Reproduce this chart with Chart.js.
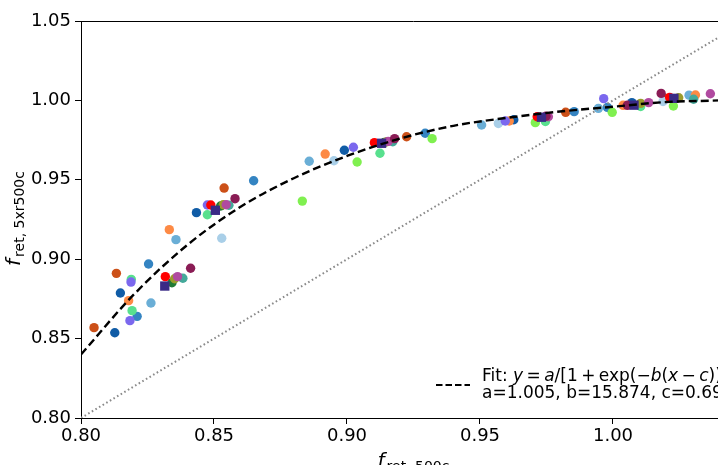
<!DOCTYPE html>
<html><head><meta charset="utf-8">
<script src="https://cdn.jsdelivr.net/npm/chart.js@4/dist/chart.umd.min.js"></script>
<style>html,body{margin:0;padding:0;background:#fff;overflow:hidden}#wrap{width:718px;height:465px;overflow:hidden;position:relative}</style>
</head><body>
<div id="wrap"><canvas id="c" width="790" height="465" style="width:790px;height:465px"></canvas></div>
<script>
// ---- data ----
const xTicks = [0.80, 0.85, 0.90, 0.95, 1.00, 1.05];
const yTicks = [0.80, 0.85, 0.90, 0.95, 1.00, 1.05];

const fitX = [0.80, 0.82, 0.84, 0.86, 0.88, 0.90, 0.92, 0.94, 0.96, 0.98, 1.00, 1.02, 1.04, 1.05];
const fitY = [0.840, 0.878, 0.909, 0.933, 0.951, 0.965, 0.976, 0.984, 0.989, 0.993, 0.996, 0.999, 1.000, 1.001];
const oneToOneX = [0.80, 1.05];
const oneToOneY = [0.80, 1.05];

const orangeRedX = [0.8049, 0.8133, 0.8538, 0.9224, 0.9822, 1.0200];
const orangeRedY = [0.8569, 0.8911, 0.9448, 0.9771, 0.9925, 1.0013];
const blueX = [0.8211, 0.8254, 0.8649, 0.9294, 0.9854, 0.9979];
const blueY = [0.8640, 0.8970, 0.9494, 0.9793, 0.9929, 0.9956];
const lightBlueX = [0.8263, 0.8357, 0.8858, 0.9506, 0.9945, 1.0286];
const lightBlueY = [0.8724, 0.9123, 0.9617, 0.9845, 0.9950, 1.0033];
const paleBlueX = [0.8529, 0.8951, 0.9569, 1.0188];
const paleBlueY = [0.9132, 0.9620, 0.9855, 0.9993];
const darkBlueX = [0.8127, 0.8148, 0.8434, 0.8990, 0.9627, 1.0071];
const darkBlueY = [0.8537, 0.8787, 0.9293, 0.9686, 0.9878, 0.9986];
const orangeX = [0.8179, 0.8332, 0.8918, 0.9610, 1.0038, 1.0310];
const orangeY = [0.8739, 0.9186, 0.9662, 0.9870, 0.9969, 1.0034];
const purpleX = [0.8184, 0.8188, 0.8475, 0.9024, 0.9595, 0.9965];
const purpleY = [0.8613, 0.8856, 0.9341, 0.9705, 0.9870, 1.0011];
const mintX = [0.8189, 0.8192, 0.8475, 0.9124, 0.9746, 1.0104];
const mintY = [0.8873, 0.8676, 0.9280, 0.9667, 0.9867, 0.9962];
const limeX = [0.8832, 0.9038, 0.9320, 0.9708, 0.9997, 1.0227];
const limeY = [0.9366, 0.9612, 0.9759, 0.9860, 0.9925, 0.9965];
const redX = [0.8317, 0.8488, 0.9103, 0.9715, 1.0213];
const redY = [0.8890, 0.9341, 0.9734, 0.9897, 1.0019];
const navyX = [0.8315, 0.8505, 0.9130, 0.9731, 1.0079, 1.0229];
const navyY = [0.8831, 0.9308, 0.9730, 0.9894, 0.9970, 1.0013];
const darkGreenX = [0.8342, 0.8525, 0.9140];
const darkGreenY = [0.8852, 0.9335, 0.9735];
const oliveX = [0.8352, 0.8535, 0.9150, 1.0104, 1.0247];
const oliveY = [0.8877, 0.9343, 0.9740, 0.9981, 1.0017];
const magentaX = [0.8363, 0.8546, 0.9155, 0.9757, 1.0134, 1.0366];
const magentaY = [0.8890, 0.9343, 0.9742, 0.9897, 0.9986, 1.0042];
const tealX = [0.8383, 0.8556, 0.9172, 1.0303];
const tealY = [0.8880, 0.9340, 0.9740, 1.0007];
const maroonX = [0.8412, 0.8579, 0.9179, 0.9748, 1.0054, 1.0181];
const maroonY = [0.8943, 0.9381, 0.9759, 0.9900, 0.9969, 1.0044];

const legendLine1 = ['Fit: ', 'y', '\u2009=\u2009', 'a', '/[1\u2009+\u2009exp(\u2212', 'b', '(', 'x', '\u2009\u2212\u2009', 'c', '))]'];
const legendLine2 = 'a=1.005, b=15.874, c=0.697';
const xTitleMain = 'f', xTitleSub = 'ret, 500c';
const yTitleMain = 'f', yTitleSub = 'ret, 5xr500c';

// ---- styles ----
const FONT = '"DejaVu Sans", "Liberation Sans", sans-serif';
const pts = (xs, ys) => xs.map((x, i) => ({x: x, y: ys[i]}));
const series = [
  [navyX, navyY, '#3a2a86', 'rect', 6.6],
  [redX, redY, '#ff0000', 'circle', 4.7],
  [maroonX, maroonY, '#8a1c55', 'circle', 4.7],
  [magentaX, magentaY, '#b04aa0', 'circle', 4.7],
  [tealX, tealY, '#44a99a', 'circle', 4.7],
  [oliveX, oliveY, '#9a9b2b', 'circle', 4.7],
  [darkGreenX, darkGreenY, '#207a35', 'circle', 4.7],
  [purpleX, purpleY, '#7b68ee', 'circle', 4.7],
  [mintX, mintY, '#58e08e', 'circle', 4.7],
  [limeX, limeY, '#80f050', 'circle', 4.7],
  [orangeX, orangeY, '#fd8a45', 'circle', 4.7],
  [darkBlueX, darkBlueY, '#105ca6', 'circle', 4.7],
  [paleBlueX, paleBlueY, '#a9cfe8', 'circle', 4.7],
  [lightBlueX, lightBlueY, '#6aaed6', 'circle', 4.7],
  [blueX, blueY, '#3484c2', 'circle', 4.7],
  [orangeRedX, orangeRedY, '#cc5018', 'circle', 4.7]
];

const datasets = [
  {type: 'line', data: pts(fitX, fitY), borderColor: '#000', borderWidth: 2.4, borderDash: [8, 4],
   pointRadius: 0, tension: 0.4, cubicInterpolationMode: 'monotone', fill: false},
  {type: 'line', data: pts(oneToOneX, oneToOneY), borderColor: '#8a8a8a', borderWidth: 2, borderDash: [1.6, 2.6],
   pointRadius: 0, fill: false}
].concat(series.map(s => ({
  type: 'scatter', data: pts(s[0], s[1]), backgroundColor: s[2], borderWidth: 0,
  pointStyle: s[3], pointRadius: s[4], pointHoverRadius: s[4]
})));

const decor = {
  id: 'decor',
  afterDraw(chart) {
    const ctx = chart.ctx, a = chart.chartArea;
    ctx.save();
    ctx.strokeStyle = '#000'; ctx.lineWidth = 1;
    ctx.beginPath();
    ctx.moveTo(a.left, Math.round(a.top) + 0.5); ctx.lineTo(a.right, Math.round(a.top) + 0.5);
    ctx.moveTo(Math.round(a.right) - 0.5, a.top); ctx.lineTo(Math.round(a.right) - 0.5, a.bottom);
    ctx.stroke();
    ctx.fillStyle = '#000';
    ctx.textBaseline = 'alphabetic';
    ctx.textAlign = 'left';
    // x title
    ctx.font = 'italic 20px ' + FONT;
    const fw = ctx.measureText(xTitleMain).width;
    ctx.font = '14px ' + FONT;
    const sw = ctx.measureText(xTitleSub).width;
    const total = fw + 2 + sw;
    let x0 = (a.left + a.right) / 2 - total / 2;
    const by = 467;
    ctx.font = 'italic 20px ' + FONT;
    ctx.fillText(xTitleMain, x0, by);
    ctx.font = '14px ' + FONT;
    ctx.fillText(xTitleSub, x0 + fw + 2, by + 4);
    // y title
    ctx.save();
    ctx.font = 'italic 20px ' + FONT;
    const fw2 = ctx.measureText(yTitleMain).width;
    ctx.font = '14px ' + FONT;
    const sw2 = ctx.measureText(yTitleSub).width;
    const tot2 = fw2 + 2 + sw2;
    const cy = (a.top + a.bottom) / 2 - 4;
    ctx.translate(20, cy + tot2 / 2 + 3);
    ctx.rotate(-Math.PI / 2);
    ctx.font = 'italic 20px ' + FONT;
    ctx.fillText(yTitleMain, 0, 0);
    ctx.font = '14px ' + FONT;
    ctx.fillText(yTitleSub, fw2 + 2, 4);
    ctx.restore();
    // legend
    ctx.save();
    ctx.strokeStyle = '#000'; ctx.lineWidth = 2.2; ctx.setLineDash([6.5, 3]);
    ctx.beginPath(); ctx.moveTo(436, 385); ctx.lineTo(470, 385); ctx.stroke();
    ctx.restore();
    let lx = 482;
    const italicIdx = [1, 3, 5, 7, 9];
    legendLine1.forEach((t, i) => {
      ctx.font = (italicIdx.includes(i) ? 'italic ' : '') + '17px ' + FONT;
      ctx.fillText(t, lx, 381);
      lx += ctx.measureText(t).width;
    });
    ctx.font = '17px ' + FONT;
    ctx.fillText(legendLine2, 482, 398);
    ctx.restore();
  }
};

new Chart(document.getElementById('c'), {
  data: {datasets: datasets},
  options: {
    responsive: false, animation: false, devicePixelRatio: 1,
    layout: {padding: {top: 21, right: 44, left: 0, bottom: 0}},
    plugins: {legend: {display: false}, tooltip: {enabled: false}},
    scales: {
      x: {
        type: 'linear', min: 0.80, max: 1.05,
        afterBuildTicks: s => { s.ticks = xTicks.map(v => ({value: v})); },
        afterFit: s => { s.height = 47; },
        grid: {display: true, drawOnChartArea: false, drawTicks: true, tickLength: 6, color: '#000', tickWidth: 1},
        border: {display: true, color: '#000', width: 1},
        ticks: {color: '#000', font: {family: FONT, size: 18}, padding: 2, maxRotation: 0,
                callback: v => Number(v).toFixed(2)}
      },
      y: {
        type: 'linear', min: 0.80, max: 1.05,
        afterBuildTicks: s => { s.ticks = yTicks.map(v => ({value: v})); },
        afterFit: s => { s.width = 81; },
        grid: {display: true, drawOnChartArea: false, drawTicks: true, tickLength: 6, color: '#000', tickWidth: 1},
        border: {display: true, color: '#000', width: 1},
        ticks: {color: '#000', font: {family: FONT, size: 18}, padding: 4,
                callback: v => Number(v).toFixed(2)}
      }
    }
  },
  plugins: [decor]
});
</script>
</body></html>
